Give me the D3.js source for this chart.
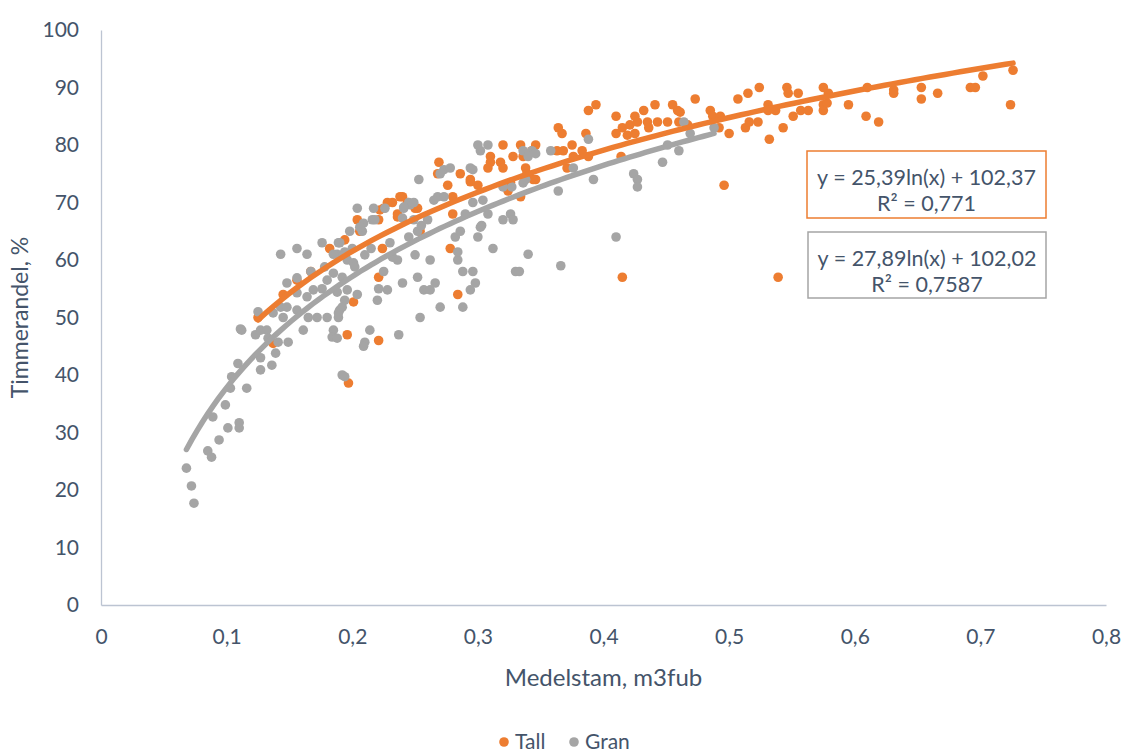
<!DOCTYPE html>
<html>
<head>
<meta charset="utf-8">
<script src="https://cdn.jsdelivr.net/npm/d3@7"></script>
<style>
  body { margin: 0; background: #fff; }
  svg text { font-family: 'Lato', 'Noto Sans', sans-serif; fill: #44546A; }
</style>
</head>
<body>
<div id="chart"></div>
<script>
// Tall (pine) points: [medelstam, timmerandel]
var tallPoints = [
  [0.125,50],[0.137,45.5],[0.145,54],[0.156,56.5],[0.167,58],[0.182,62],[0.194,63.5],
  [0.196,47],[0.197,38.6],[0.201,52.7],[0.221,46],[0.221,57],[0.224,62],
  [0.204,67],[0.206,65],[0.221,67],[0.222,68.7],[0.225,69],[0.232,70],[0.228,70],[0.236,68],
  [0.236,67.5],[0.24,71],[0.244,70],[0.238,71],[0.25,69],[0.252,69],[0.254,65],
  [0.269,77],[0.268,75],[0.276,73],[0.28,71],[0.286,75],[0.294,74],[0.3,73],[0.28,68],[0.278,62],[0.284,54],
  [0.31,78],[0.31,77],[0.308,76],[0.318,77],[0.32,76],[0.32,80],[0.334,80],[0.346,80],[0.328,78],
  [0.336,78],[0.343,79],[0.338,76],[0.339,75],[0.346,74],[0.324,72],[0.334,71],[0.326,73.5],
  [0.363,79],[0.368,79],[0.375,80],[0.383,79],[0.388,78],[0.371,76],[0.376,78],[0.364,83],[0.367,82],
  [0.386,82],[0.394,87],[0.388,86],[0.294,73.6],[0.344,74],
  [0.41,85],[0.425,85],[0.432,86],[0.441,87],[0.455,87],[0.459,86],[0.473,88],
  [0.415,83],[0.421,83.5],[0.427,84],[0.435,84],[0.443,84],[0.451,84],[0.46,84],[0.467,83.5],
  [0.41,82],[0.419,81.7],[0.425,82],[0.436,83],[0.414,78],[0.415,57],[0.461,85.7],
  [0.485,86],[0.487,85],[0.493,85],[0.492,83],[0.5,82],[0.507,88],[0.515,89],[0.524,90],
  [0.513,83],[0.516,84],[0.523,84],[0.531,87],[0.531,86],[0.537,86],[0.532,81],[0.543,83],
  [0.551,85],[0.546,90],[0.547,89],[0.555,89],[0.557,86],[0.563,86],[0.575,86],[0.575,87],
  [0.578,87.3],[0.575,90],[0.579,89],[0.595,87],[0.609,85],[0.619,84],[0.61,90],[0.631,89.6],
  [0.631,89],[0.653,90],[0.653,88],[0.666,89],[0.692,90],[0.696,90],[0.702,92],[0.726,93],
  [0.724,87],[0.496,73],[0.539,57]
];

// Gran (spruce) points
var granPoints = [
  [0.068,23.8],[0.072,20.7],[0.074,17.7],[0.085,26.8],[0.088,25.7],[0.094,28.7],[0.101,30.8],
  [0.11,31.7],[0.11,30.8],[0.089,32.7],[0.099,34.8],[0.103,37.7],[0.104,39.7],[0.109,42],
  [0.116,37.7],[0.112,47.8],[0.125,51],[0.123,47],[0.127,47.8],[0.132,47.8],[0.133,46.4],
  [0.127,43],[0.127,40.9],[0.136,41.7],[0.139,43.8],[0.149,45.7],[0.141,45.7],
  [0.143,61],[0.156,62],[0.164,61],[0.176,63],[0.189,63],[0.198,65],[0.188,61],[0.196,60],
  [0.201,59.5],[0.167,58],[0.178,58.8],[0.185,57.7],[0.192,57],[0.156,56.9],[0.148,56],
  [0.156,54.3],[0.164,53.6],[0.169,54.8],[0.176,55],[0.18,56.5],[0.188,54.4],[0.196,54.8],
  [0.204,54],[0.194,53],[0.143,51.8],[0.148,51.8],[0.137,50.8],[0.145,50],[0.156,51.3],
  [0.165,50],[0.172,50],[0.18,50],[0.189,50],[0.19,51.3],[0.111,48],[0.161,47.8],[0.185,47.8],
  [0.184,46.6],[0.188,46.4],[0.21,45.7],[0.209,45],[0.214,47.8],[0.194,39.7],[0.192,40],
  [0.253,74],[0.204,69],[0.217,69],[0.226,69],[0.209,66.4],[0.216,67],[0.208,65],[0.241,69],
  [0.246,69.6],[0.24,67.3],[0.249,67],[0.252,65],[0.268,71],[0.273,71],[0.265,70.4],[0.19,63],
  [0.185,61],[0.194,61.4],[0.21,60.9],[0.202,58.8],[0.225,58],[0.236,60],[0.232,60.5],[0.25,60.9],
  [0.262,60],[0.252,57],[0.24,56],[0.228,54.8],[0.221,55],[0.22,53],[0.257,54.8],[0.262,54.8],
  [0.266,56],[0.192,51.8],[0.189,50.8],[0.254,50],[0.27,51.8],[0.237,47],[0.288,51.8],[0.298,56],
  [0.294,54.8],[0.296,58],[0.288,58],[0.284,60],[0.284,61.4],[0.282,64],[0.286,65],[0.3,64],
  [0.303,66],[0.312,62],[0.33,58],[0.333,58],[0.34,61],[0.29,68],[0.308,68],[0.32,67],[0.326,68],
  [0.328,67],[0.296,70],[0.304,70.4],[0.32,72.7],[0.327,72.7],[0.336,73.4],
  [0.308,80],[0.302,79],[0.3,80],[0.336,79],[0.343,79],[0.346,78.5],[0.34,78],[0.358,79],
  [0.388,81],[0.376,76],[0.392,74],[0.364,72],[0.338,74],[0.424,75],[0.427,74],[0.427,72.7],
  [0.447,77],[0.46,79],[0.464,84],[0.469,82],[0.488,83],[0.451,80],[0.302,65.7],[0.366,59],
  [0.41,64],[0.294,76],[0.296,75.7],[0.273,75.7],[0.278,76],[0.27,75],[0.245,70],[0.249,70],
  [0.241,69.2],[0.206,65.7],[0.218,67],[0.23,63],[0.245,64],[0.255,66],[0.26,67],[0.215,62],[0.2,62]
];

// log trendlines: y = a*ln(x) + b
var seriesNames = ["Tall", "Gran"];
var seriesColors = ["#ED7D31", "#A5A5A5"];
var trendA = [25.39, 27.89];
var trendB = [102.37, 102.02];
var trendText = [["y = 25,39ln(x) + 102,37", "R\u00b2 = 0,771"], ["y = 27,89ln(x) + 102,02", "R\u00b2 = 0,7587"]];

var xTicks = [0, 0.1, 0.2, 0.3, 0.4, 0.5, 0.6, 0.7, 0.8];
var yTicks = [0, 10, 20, 30, 40, 50, 60, 70, 80, 90, 100];

var width = 1124, height = 753;
var margin = { top: 30, right: 18, bottom: 148, left: 101 };

var svg = d3.select("#chart").append("svg")
    .attr("width", width)
    .attr("height", height);

var x = d3.scaleLinear().domain([0, 0.8]).range([margin.left, width - margin.right]);
var y = d3.scaleLinear().domain([0, 100]).range([height - margin.bottom, margin.top]);

var fmt = function (d) { return String(d).replace(".", ","); };

// axes
var xAxis = svg.append("g")
    .attr("transform", "translate(0," + y(0) + ")")
    .call(d3.axisBottom(x).tickValues(xTicks).tickSize(0).tickPadding(24).tickFormat(fmt));
var yAxis = svg.append("g")
    .attr("transform", "translate(" + x(0) + ",0)")
    .call(d3.axisLeft(y).tickValues(yTicks).tickSize(0).tickPadding(22).tickFormat(fmt));

[xAxis, yAxis].forEach(function (ax) {
    ax.select(".domain").attr("stroke", "#BCC4D2").attr("stroke-width", 1.3);
    ax.selectAll("text").style("font-size", "21px").attr("fill", "#44546A");
});

svg.append("text")
    .attr("x", (x(0) + x(0.8)) / 2)
    .attr("y", 686)
    .attr("text-anchor", "middle")
    .style("font-size", "24px")
    .text("Medelstam, m3fub");

svg.append("text")
    .attr("transform", "translate(28," + ((y(0) + y(100)) / 2) + ") rotate(-90)")
    .attr("text-anchor", "middle")
    .style("font-size", "23px")
    .text("Timmerandel, %");

// points
var allSeries = [tallPoints, granPoints];
allSeries.forEach(function (pts, i) {
    svg.append("g").selectAll("circle")
        .data(pts)
        .enter()
        .append("circle")
        .attr("cx", function (d) { return x(d[0]); })
        .attr("cy", function (d) { return y(d[1]); })
        .attr("r", 4.8)
        .attr("fill", seriesColors[i]);
});

// trendlines over each series' x range
var line = d3.line().x(function (d) { return x(d[0]); }).y(function (d) { return y(d[1]); });
allSeries.forEach(function (pts, i) {
    var ext = d3.extent(pts, function (d) { return d[0]; });
    var curve = d3.range(0, 101).map(function (k) {
        var xv = ext[0] + (ext[1] - ext[0]) * k / 100;
        return [xv, trendA[i] * Math.log(xv) + trendB[i]];
    });
    svg.append("path")
        .datum(curve)
        .attr("d", line)
        .attr("fill", "none")
        .attr("stroke", seriesColors[i])
        .attr("stroke-width", 5.5)
        .attr("stroke-linecap", "round");
});

// equation labels
var boxes = [{ x: 807, y: 151, w: 239, h: 67 }, { x: 808, y: 232, w: 238, h: 66 }];
boxes.forEach(function (b, i) {
    var g = svg.append("g").attr("transform", "translate(" + b.x + "," + b.y + ")");
    g.append("rect")
        .attr("width", b.w)
        .attr("height", b.h)
        .attr("fill", "#fff")
        .attr("stroke", seriesColors[i])
        .attr("stroke-width", 1.5);
    trendText[i].forEach(function (t, j) {
        g.append("text")
            .attr("x", b.w / 2)
            .attr("y", 34 + j * 26)
            .attr("text-anchor", "middle")
            .style("font-size", "21.5px")
            .text(t);
    });
});

// legend
var legend = svg.selectAll(".legend")
    .data(seriesNames)
    .enter()
    .append("g")
    .attr("class", "legend")
    .attr("transform", function (d, i) { return "translate(" + (504 + i * 70) + ",742)"; });
legend.append("circle")
    .attr("r", 4.8)
    .attr("fill", function (d, i) { return seriesColors[i]; });
legend.append("text")
    .attr("x", 11)
    .attr("y", 7)
    .style("font-size", "21px")
    .text(function (d) { return d; });
</script>
</body>
</html>
